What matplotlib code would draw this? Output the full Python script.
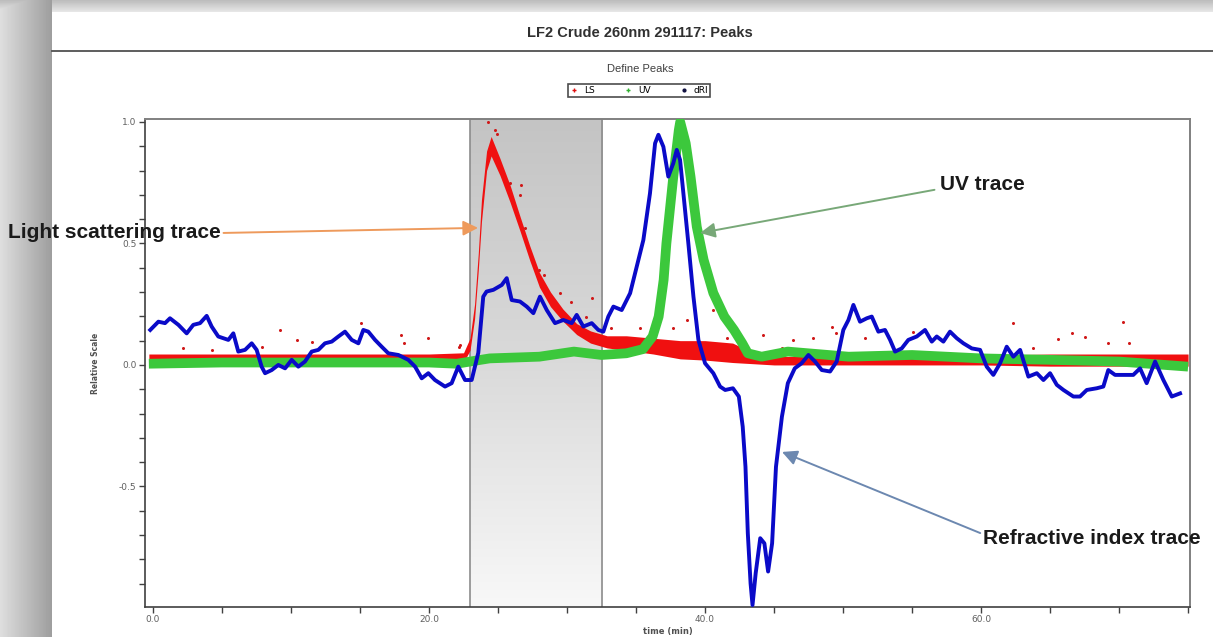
import numpy as np
import matplotlib
matplotlib.use("Agg")
import matplotlib.pyplot as plt
from matplotlib.colors import LinearSegmentedColormap
from matplotlib.lines import Line2D

# dRI trace (refractive index), time in min
dri_t = [-0.2, 0.39, 0.87, 1.23, 1.84, 2.44, 2.92, 3.41, 3.89, 4.25, 4.73, 5.46, 5.82, 6.18, 6.67,
         7.15, 7.51, 7.87, 8.12, 8.60, 9.08, 9.57, 10.05, 10.53, 11.01, 11.50, 11.98, 12.46, 12.95,
         13.43, 13.91, 14.40, 14.88, 15.24, 15.60, 16.09, 16.57, 17.05, 17.78, 18.50, 18.99, 19.47,
         19.95, 20.43, 21.16, 21.64, 22.12, 22.61, 23.09, 23.57, 23.93, 24.17, 24.66, 25.27, 25.63,
         25.99, 26.59, 27.08, 27.56, 28.04, 28.53, 29.13, 29.73, 30.34, 30.70, 31.18, 31.79, 32.27,
         32.63, 32.99, 33.36, 33.96, 34.57, 35.05, 35.53, 36.01, 36.38, 36.62, 36.98, 37.34, 37.70,
         37.95, 38.19, 38.43, 38.79, 39.16, 39.52, 40.0, 40.6, 41.09, 41.46, 42.02, 42.45, 42.73,
         42.93, 43.1, 43.3, 43.44, 43.67, 44.0, 44.3, 44.57, 44.86, 45.14, 45.57, 46.0, 46.5, 47.0,
         47.49, 47.97, 48.46, 49.06, 49.54, 50.02, 50.39, 50.75, 51.23, 51.72, 52.08, 52.56, 53.04,
         53.41, 53.77, 54.25, 54.73, 55.34, 55.94, 56.43, 56.79, 57.27, 57.75, 58.24, 58.72, 59.33,
         59.93, 60.41, 60.89, 61.38, 61.86, 62.34, 62.83, 63.43, 64.04, 64.52, 65.0, 65.49, 65.97,
         66.69, 67.17, 67.66, 68.38, 68.86, 69.22, 69.71, 70.31, 71.03, 71.52, 72.0, 72.61, 73.21,
         73.82, 74.42]
dri_v = [0.144, 0.178, 0.172, 0.192, 0.165, 0.130, 0.165, 0.172, 0.202, 0.158, 0.117, 0.103, 0.130,
         0.055, 0.062, 0.089, 0.062, -0.007, -0.034, -0.021, 0.0, -0.014, 0.021, -0.007, 0.014,
         0.055, 0.062, 0.089, 0.096, 0.117, 0.137, 0.103, 0.089, 0.144, 0.137, 0.103, 0.075, 0.048,
         0.041, 0.021, -0.007, -0.055, -0.034, -0.062, -0.089, -0.075, -0.007, -0.062, -0.062,
         0.050, 0.281, 0.302, 0.309, 0.329, 0.357, 0.267, 0.261, 0.240, 0.213, 0.281, 0.226, 0.172,
         0.185, 0.172, 0.206, 0.158, 0.172, 0.144, 0.137, 0.199, 0.240, 0.226, 0.295, 0.405, 0.514,
         0.706, 0.912, 0.947, 0.898, 0.775, 0.830, 0.885, 0.844, 0.706, 0.501, 0.281, 0.103, 0.007,
         -0.034, -0.089, -0.103, -0.096, -0.130, -0.254, -0.419, -0.693, -0.899, -0.988, -0.857,
         -0.713, -0.734, -0.850, -0.734, -0.419, -0.213, -0.075, -0.014, 0.007, 0.041, 0.014,
         -0.021, -0.027, 0.014, 0.144, 0.185, 0.247, 0.178, 0.192, 0.199, 0.137, 0.144, 0.103,
         0.055, 0.068, 0.103, 0.117, 0.144, 0.096, 0.117, 0.096, 0.137, 0.110, 0.089, 0.068, 0.062,
         -0.007, -0.041, 0.007, 0.075, 0.034, 0.062, -0.048, -0.034, -0.062, -0.034, -0.082,
         -0.103, -0.130, -0.130, -0.103, -0.096, -0.089, -0.021, -0.041, -0.041, -0.041, -0.014,
         -0.075, 0.014, -0.062, -0.130, -0.117]

# UV trace
uv_t = [-0.3, 5, 10, 15, 20, 22, 24.4, 28, 30.5, 32.5, 34.3, 35.5, 36.2, 36.64, 37.0, 37.2, 37.7,
        38.1, 38.2, 38.6, 38.95, 39.4, 39.9, 40.6, 41.4, 42.1, 42.7, 43.1, 44.1, 46, 50.4, 55, 60,
        65, 70, 75]
uv_v = [0.005, 0.01, 0.01, 0.01, 0.01, 0.005, 0.027, 0.034, 0.055, 0.041, 0.048, 0.065, 0.117,
        0.199, 0.35, 0.50, 0.775, 0.967, 1.0, 0.912, 0.775, 0.569, 0.432, 0.296, 0.199, 0.144,
        0.089, 0.048, 0.034, 0.055, 0.034, 0.041, 0.027, 0.021, 0.014, -0.007]

# LS trace: band of points (lower / upper edge) + stray points
ls_t = [-0.3, 5, 10, 15, 20, 22.5, 22.97, 23.3, 23.57, 23.8, 24.17, 24.5, 25.14, 25.87, 26.6,
        27.3, 28.0, 28.8, 29.7, 30.7, 31.7, 32.9, 34.3, 36.25, 38.2, 40.0, 42.0, 43.5, 45.0, 50,
        55, 60, 65, 70, 75]
ls_hi = [0.045, 0.045, 0.045, 0.045, 0.045, 0.05, 0.11, 0.25, 0.46, 0.68, 0.88, 0.94, 0.85, 0.74,
         0.61, 0.49, 0.38, 0.30, 0.23, 0.17, 0.14, 0.12, 0.12, 0.11, 0.10, 0.10, 0.09, 0.05, 0.035,
         0.035, 0.04, 0.04, 0.045, 0.045, 0.045]
ls_lo = [0.01, 0.01, 0.01, 0.01, 0.01, 0.01, 0.06, 0.19, 0.39, 0.59, 0.80, 0.86, 0.78, 0.67,
         0.55, 0.43, 0.32, 0.24, 0.18, 0.125, 0.09, 0.07, 0.06, 0.045, 0.025, 0.02, 0.01, 0.005,
         0.00, 0.00, 0.00, 0.00, -0.005, -0.005, -0.005]
ls_out_t = [2.2, 4.3, 7.9, 9.2, 10.4, 11.5, 15.1, 18.0, 18.2, 19.95, 22.2, 22.25, 24.3, 24.8, 24.9,
            25.9, 26.6, 26.7, 26.96, 28.0, 28.3, 29.5, 30.3, 31.4, 31.8, 33.2, 35.3, 37.7, 38.7,
            40.6, 41.6, 44.2, 45.6, 46.4, 47.8, 49.2, 49.5, 51.6, 55.1, 62.3, 63.8, 65.6, 66.6,
            67.5, 69.2, 70.3, 70.7]
ls_out_v = [0.069, 0.06, 0.075, 0.144, 0.103, 0.096, 0.172, 0.123, 0.09, 0.110, 0.075, 0.082, 1.0,
            0.967, 0.95, 0.75, 0.70, 0.74, 0.562, 0.39, 0.370, 0.295, 0.261, 0.199, 0.274, 0.151,
            0.151, 0.151, 0.185, 0.226, 0.110, 0.123, 0.07, 0.103, 0.110, 0.158, 0.13, 0.110, 0.137,
            0.172, 0.069, 0.105, 0.133, 0.117, 0.092, 0.178, 0.089]

# defined peak region
peak_start = 22.97
peak_end = 32.55

W, H = 1213, 637
fig = plt.figure(figsize=(W / 100, H / 100), dpi=100)
fig.patch.set_facecolor("white")

# screenshot shadow at left and top
bg = fig.add_axes([0, 0, 1, 1], zorder=-10)
img = np.ones((H, W))
img[:, :52] = np.linspace(0.87, 0.62, 52)[None, :]
img[:12, :] = np.minimum(img[:12, :], np.linspace(0.74, 0.90, 12)[:, None])
bg.imshow(img, cmap="gray", vmin=0, vmax=1, aspect="auto", extent=[0, 1, 0, 1])
bg.axis("off")

# title line
fig.add_artist(Line2D([52 / W, 1], [1 - 51 / H, 1 - 51 / H], color="#505050", lw=1.3))
fig.text(640 / W, 1 - 33 / H, "LF2 Crude 260nm 291117: Peaks", ha="center", va="center",
         fontsize=10.5, fontweight="bold", color="#303030", family="Liberation Sans")
fig.text(640 / W, 1 - 69 / H, "Define Peaks", ha="center", va="center", fontsize=8,
         color="#404040", family="Liberation Sans")

ax = fig.add_axes([145 / W, 1 - 607 / H, (1190 - 145) / W, (607 - 119) / H])
ax.set_xlim(-0.58, 75.14)
ax.set_ylim(-0.996, 1.012)

ymin, ymax = ax.get_ylim()
shade = LinearSegmentedColormap.from_list("shade", ["#c4c4c4", "#dadada", "#f8f8f8"])
ax.imshow(np.linspace(0, 1, 256).reshape(-1, 1), cmap=shade, aspect="auto",
          extent=[peak_start, peak_end, ymin, ymax], origin="upper", zorder=0)
for xb in (peak_start, peak_end):
    ax.axvline(xb, color="#8c8c8c", lw=1.2, zorder=1)

ax.fill_between(ls_t, ls_lo, ls_hi, color="#f01010", lw=0, zorder=2)
ax.plot(ls_out_t, ls_out_v, ls="none", marker="o", ms=2.2, mew=0, color="#d01818", zorder=2)
ax.plot(uv_t, uv_v, color="#3cc83c", lw=7, solid_capstyle="butt", zorder=3)
ax.plot(dri_t, dri_v, color="#0a0ac8", lw=2.8, zorder=4)

ax.set_xticks([0, 20, 40, 60])
ax.set_xticks(np.arange(5, 76, 5), minor=True)
ax.set_xticklabels(["0.0", "20.0", "40.0", "60.0"])
ax.set_yticks([-0.5, 0.0, 0.5, 1.0])
ax.set_yticks(np.arange(-0.9, 1.0, 0.1), minor=True)
ax.set_yticklabels(["-0.5", "0.0", "0.5", "1.0"])
ax.tick_params(which="both", direction="out", length=4, width=1, color="#404040",
               labelsize=6.5, labelcolor="#606060", pad=2)
for s in ("left", "bottom"):
    ax.spines[s].set_color("#404040")
    ax.spines[s].set_linewidth(1.2)
for s in ("right", "top"):
    ax.spines[s].set_color("#808080")
    ax.spines[s].set_linewidth(1.4)
ax.set_xlabel("time (min)", fontsize=6, fontweight="bold", color="#505050", labelpad=2)
ax.set_ylabel("Relative Scale", fontsize=5.5, fontweight="bold", color="#505050", labelpad=14)

handles = [Line2D([], [], ls="none", marker="+", ms=3.5, color="#e01010"),
           Line2D([], [], ls="none", marker="+", ms=3.5, color="#30b030"),
           Line2D([], [], ls="none", marker=".", ms=4, color="#101040")]
leg = fig.legend(handles, ["LS", "UV", "dRI"], ncol=3, loc="center",
                 bbox_to_anchor=(639 / W, 1 - 90.5 / H), fontsize=6.5, frameon=True,
                 fancybox=False, edgecolor="#202020", handlelength=1, handletextpad=0.6,
                 columnspacing=3.2, borderpad=0.2, borderaxespad=0)
leg.get_frame().set_linewidth(1.2)

afont = dict(fontsize=15, fontweight="bold", color="#1a1a1a", family="Liberation Sans")
ax.annotate("Light scattering trace", xy=(23.55, 0.564), xytext=(8, H - 233),
            textcoords="figure pixels", ha="left", va="center", annotation_clip=False,
            arrowprops=dict(arrowstyle="-|>,head_length=0.6,head_width=0.3", color="#ee9a5c",
                            lw=1.4, relpos=(1, 0.5), shrinkA=0, shrinkB=0), **afont)
ax.annotate("UV trace", xy=(39.64, 0.543), xytext=(940, H - 185),
            textcoords="figure pixels", ha="left", va="center", annotation_clip=False,
            arrowprops=dict(arrowstyle="-|>,head_length=0.6,head_width=0.3", color="#78a878",
                            lw=1.4, relpos=(0, 0.3), shrinkA=2, shrinkB=0), **afont)
ax.annotate("Refractive index trace", xy=(45.58, -0.358), xytext=(983, H - 538),
            textcoords="figure pixels", ha="left", va="center", annotation_clip=False,
            arrowprops=dict(arrowstyle="-|>,head_length=0.6,head_width=0.3", color="#6c88b0",
                            lw=1.4, relpos=(0, 0.7), shrinkA=0, shrinkB=0), **afont)

fig.savefig("out.png", dpi=100, facecolor=fig.get_facecolor())
